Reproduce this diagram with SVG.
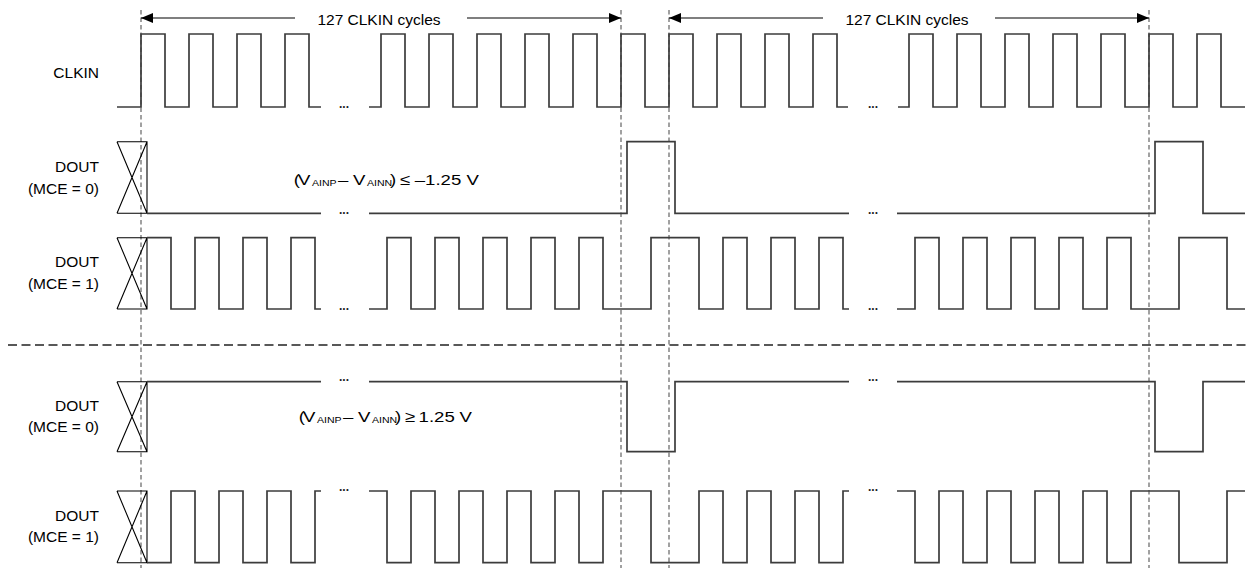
<svg xmlns="http://www.w3.org/2000/svg" width="1248" height="569" viewBox="0 0 1248 569">
<style>
.lbl{font-family:"Liberation Sans",Arial,sans-serif;font-size:15.5px;fill:#000;text-anchor:end}
.cyc{font-family:"Liberation Sans",Arial,sans-serif;font-size:15.5px;fill:#000;text-anchor:middle}
.v{font-family:"Liberation Sans",Arial,sans-serif;font-size:15.5px;fill:#000}
.sub{font-size:8.8px}
.dots{font-family:"Liberation Sans",Arial,sans-serif;font-size:12px;font-weight:bold;fill:#222;text-anchor:middle}
.wave{fill:none;stroke:#3c3c3c;stroke-width:1.7;stroke-linejoin:miter}
.xs{fill:none;stroke:#000;stroke-width:1.1}
.guide{fill:none;stroke:#8a8a8a;stroke-width:1.6;stroke-dasharray:4.5 3}
.sep{fill:none;stroke:#222;stroke-width:1.3;stroke-dasharray:9 4.5}
.arr{fill:none;stroke:#000;stroke-width:1.2}
</style>
<defs>
<marker id="ah" viewBox="0 0 12 10" refX="12" refY="5" markerWidth="12" markerHeight="10" markerUnits="userSpaceOnUse" orient="auto">
<path d="M0,0 L12,5 L0,10 Z" fill="#000"/>
</marker>
</defs>
<rect width="1248" height="569" fill="#fff"/>

<g id="connectors">
<path class="guide" d="M141,10 V568 M621,10 V568 M669,10 V568 M1149,10 V568"/>
<path class="sep" d="M8,345 H1248"/>
<path class="arr" d="M295,18 H141" marker-end="url(#ah)"/>
<path class="arr" d="M467,18 H621" marker-end="url(#ah)"/>
<path class="arr" d="M823,18 H669" marker-end="url(#ah)"/>
<path class="arr" d="M995,18 H1149" marker-end="url(#ah)"/>
<text class="cyc" x="379" y="24.5">127 CLKIN cycles</text>
<text class="cyc" x="907" y="24.5">127 CLKIN cycles</text>
</g>

<g id="clkin">
<text class="lbl" x="99" y="78">CLKIN</text>
<path class="wave" d="M117,107 H141 V34 H165 V107 H189 V34 H213 V107 H237 V34 H261 V107 H285 V34 H309 V107 H321
M369,107 H381 V34 H405 V107 H429 V34 H453 V107 H477 V34 H501 V107 H525 V34 H549 V107 H573 V34 H597 V107 H621 V34 H645 V107 H669 V34 H693 V107 H717 V34 H741 V107 H765 V34 H789 V107 H813 V34 H837 V107 H848
M898,107 H909 V34 H933 V107 H957 V34 H981 V107 H1005 V34 H1029 V107 H1053 V34 H1077 V107 H1101 V34 H1125 V107 H1149 V34 H1173 V107 H1197 V34 H1221 V107 H1245"/>
<text class="dots" x="344" y="107.6">...</text>
<text class="dots" x="873" y="107.6">...</text>
</g>

<g id="dout-mce0-neg">
<text class="lbl" x="99" y="172">DOUT</text>
<text class="lbl" x="99" y="194">(MCE = 0)</text>
<path class="xs" d="M117,141.7 H147 V213.3 H117 M117,141.7 L147,213.3 M147,141.7 L117,213.3"/>
<path class="wave" d="M147,213.3 H321 M369,213.3 H627 V141.7 H675 V213.3 H849 M897,213.3 H1155 V141.7 H1203 V213.3 H1245"/>
<text class="dots" x="344" y="213.6">...</text>
<text class="dots" x="873" y="213.6">...</text>
</g>

<g id="cond-neg" transform="translate(295 184.5) scale(1.2 1)">
<text class="v"><tspan x="-1">(</tspan><tspan x="2.5">V</tspan><tspan x="14.2" dy="1" class="sub">AINP</tspan><tspan x="35.8" dy="-1">–</tspan><tspan x="48.3">V</tspan><tspan x="60" dy="1" class="sub">AINN</tspan><tspan x="79.2" dy="-1">)</tspan><tspan x="87.5">≤</tspan><tspan x="99.8">–1.25</tspan><tspan x="143">V</tspan></text>
</g>

<g id="dout-mce1-neg">
<text class="lbl" x="99" y="267">DOUT</text>
<text class="lbl" x="99" y="289">(MCE = 1)</text>
<path class="xs" d="M117,237.7 H147 V309 H117 M117,237.7 L147,309 M147,237.7 L117,309"/>
<path class="wave" d="M147,237.7 H171 V309 H195 V237.7 H219 V309 H243 V237.7 H267 V309 H291 V237.7 H315 V309 H321
M369,309 H387 V237.7 H411 V309 H435 V237.7 H459 V309 H483 V237.7 H507 V309 H531 V237.7 H555 V309 H579 V237.7 H603 V309 H651 V237.7 H699 V309 H723 V237.7 H747 V309 H771 V237.7 H795 V309 H819 V237.7 H843 V309 H849
M897,309 H915 V237.7 H939 V309 H963 V237.7 H987 V309 H1011 V237.7 H1035 V309 H1059 V237.7 H1083 V309 H1107 V237.7 H1131 V309 H1179 V237.7 H1227 V309 H1245"/>
<text class="dots" x="344" y="309.8">...</text>
<text class="dots" x="873" y="309.8">...</text>
</g>

<g id="dout-mce0-pos">
<text class="lbl" x="99" y="410.5">DOUT</text>
<text class="lbl" x="99" y="432">(MCE = 0)</text>
<path class="xs" d="M117,381.7 H147 V451.7 H117 M117,381.7 L147,451.7 M147,381.7 L117,451.7"/>
<path class="wave" d="M147,381.7 H321 M369,381.7 H627 V451.7 H675 V381.7 H849 M897,381.7 H1155 V451.7 H1203 V381.7 H1245"/>
<text class="dots" x="344" y="381">...</text>
<text class="dots" x="873" y="381">...</text>
</g>

<g id="cond-pos" transform="translate(300 421.5) scale(1.2 1)">
<text class="v"><tspan x="-1">(</tspan><tspan x="2.5">V</tspan><tspan x="14.2" dy="1" class="sub">AINP</tspan><tspan x="35.8" dy="-1">–</tspan><tspan x="48.3">V</tspan><tspan x="60" dy="1" class="sub">AINN</tspan><tspan x="79.2" dy="-1">)</tspan><tspan x="87.5">≥</tspan><tspan x="98.8">1.25</tspan><tspan x="133">V</tspan></text>
</g>

<g id="dout-mce1-pos">
<text class="lbl" x="99" y="520.5">DOUT</text>
<text class="lbl" x="99" y="542">(MCE = 1)</text>
<path class="xs" d="M117,491 H147 V562.7 H117 M117,491 L147,562.7 M147,491 L117,562.7"/>
<path class="wave" d="M147,562.7 H171 V491 H195 V562.7 H219 V491 H243 V562.7 H267 V491 H291 V562.7 H315 V491 H321
M369,491 H387 V562.7 H411 V491 H435 V562.7 H459 V491 H483 V562.7 H507 V491 H531 V562.7 H555 V491 H579 V562.7 H603 V491 H651 V562.7 H699 V491 H723 V562.7 H747 V491 H771 V562.7 H795 V491 H819 V562.7 H843 V491 H849
M897,491 H915 V562.7 H939 V491 H963 V562.7 H987 V491 H1011 V562.7 H1035 V491 H1059 V562.7 H1083 V491 H1107 V562.7 H1131 V491 H1179 V562.7 H1227 V491 H1245"/>
<text class="dots" x="344" y="491">...</text>
<text class="dots" x="873" y="491">...</text>
</g>
</svg>
